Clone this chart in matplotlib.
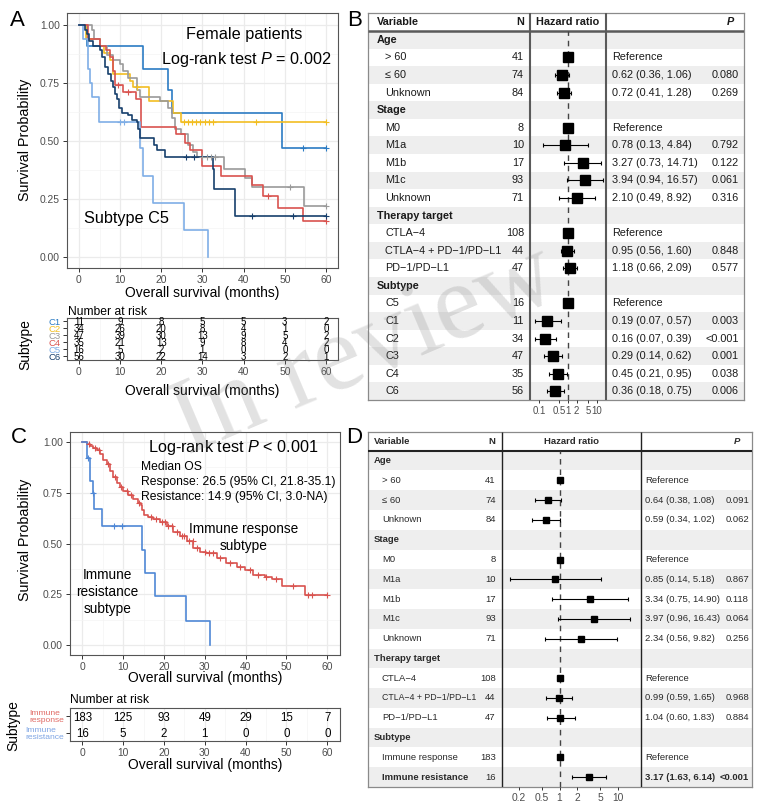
import numpy as np
import matplotlib
matplotlib.use("Agg")
import matplotlib.pyplot as plt
from matplotlib.ticker import NullLocator

plt.rcParams['font.family'] = ['Liberation Sans', 'DejaVu Sans']
plt.rcParams['mathtext.fontset'] = 'custom'
plt.rcParams['mathtext.rm'] = 'Liberation Sans'
plt.rcParams['mathtext.it'] = 'Liberation Sans:italic'
plt.rcParams['mathtext.bf'] = 'Liberation Sans:bold'

# ======================= DATA =======================
# ---- Panel A: Kaplan-Meier by subtype ----
A_groups = ['C1', 'C2', 'C3', 'C4', 'C5', 'C6']
A_colors = ['#2B7BC3', '#F2BE22', '#9A9A9A', '#D9534F', '#7FAEE6', '#173F6C']

C1_t = [0, 2.0, 15.6, 21.7, 22.7, 49.2]
C1_s = [1, 0.91, 0.81, 0.72, 0.62, 0.47]
C1_end = 60
C1_cens = [54.5, 60]

C2_t = [0, 1.7, 5.0, 6.0, 7.5, 8.3, 12.4, 13.2, 17.0, 22.9, 24.9]
C2_s = [1, 0.94, 0.91, 0.88, 0.85, 0.79, 0.76, 0.73, 0.67, 0.62, 0.58]
C2_end = 60
C2_cens = [14.0, 25.5, 26.5, 27.5, 28.5, 29.5, 30.5, 31.5, 32.5, 43.0, 60]

C3_t = [0, 3.1, 3.6, 5.1, 6.7, 8.3, 10.0, 10.8, 12.0, 14.0, 14.8, 19.7, 21.7,
        22.5, 23.3, 24.9, 26.6, 27.8, 28.6, 35.1, 40.3, 42.0, 54.7]
C3_s = [1, 0.98, 0.94, 0.91, 0.87, 0.85, 0.83, 0.80, 0.77, 0.72, 0.69, 0.67, 0.64,
        0.60, 0.55, 0.53, 0.48, 0.45, 0.43, 0.38, 0.34, 0.30, 0.22]
C3_end = 60
C3_cens = [30.0, 31.0, 32.0, 33.0, 51.3, 60]

C4_t = [0, 2.3, 5.1, 6.6, 7.5, 8.3, 8.7, 10.8, 13.8, 15.1, 23.5, 25.7, 27.0,
        29.9, 34.5, 42.0, 44.8, 48.3, 54.3]
C4_s = [1, 0.94, 0.91, 0.89, 0.86, 0.80, 0.74, 0.71, 0.68, 0.56, 0.53, 0.49, 0.46,
        0.39, 0.35, 0.31, 0.26, 0.21, 0.155]
C4_end = 60
C4_cens = [9.5, 12.0, 46.0, 60]

C5_t = [0, 0.9, 2.3, 2.8, 3.2, 4.9, 14.8, 15.5, 17.9, 25.5, 31.3]
C5_s = [1, 0.94, 0.81, 0.75, 0.69, 0.58, 0.47, 0.35, 0.23, 0.115, 0.0]
C5_end = 31.3
C5_cens = [10.0, 11.0]

C6_t = [0, 1.5, 2.0, 2.5, 3.5, 5.1, 5.5, 6.3, 7.1, 7.8, 8.3, 8.7, 9.3, 9.7, 10.4,
        12.0, 12.8, 14.0, 14.4, 14.8, 18.2, 18.9, 20.9, 32.5, 32.9, 37.9]
C6_s = [1, 0.98, 0.96, 0.93, 0.91, 0.89, 0.86, 0.82, 0.79, 0.76, 0.73, 0.70, 0.68, 0.64, 0.62,
        0.61, 0.59, 0.58, 0.55, 0.51, 0.48, 0.46, 0.43, 0.38, 0.29, 0.175]
C6_end = 60
C6_cens = [26.0, 28.0, 42.0, 52.0, 60]

risk_times = [0, 10, 20, 30, 40, 50, 60]
A_risk_C1 = [11, 9, 8, 5, 5, 3, 2]
A_risk_C2 = [34, 26, 20, 8, 4, 1, 0]
A_risk_C3 = [47, 39, 30, 13, 9, 5, 2]
A_risk_C4 = [35, 21, 13, 9, 8, 4, 2]
A_risk_C5 = [16, 5, 2, 1, 0, 0, 0]
A_risk_C6 = [56, 30, 22, 14, 3, 2, 1]

# ---- Panel C: immune response vs resistance ----
C_labels = ['Immune\nresponse', 'Immune\nresistance']
C_colors = ['#D9534F', '#4F88D6']
C_label_colors = ['#E06A64', '#7EA5E4']
resp_t = [0, 1.2, 1.9, 2.7, 3.5, 4.3, 5.1, 6.0, 6.8, 7.6, 8.4, 9.2, 10.0, 11.3, 12.5,
          13.7, 14.4, 14.7, 15.0, 16.2, 17.4, 19.0, 20.7, 22.3, 23.9, 25.6, 27.2, 28.8,
          30.4, 32.9, 35.3, 37.8, 39.8, 41.9, 44.7, 46.4, 48.8, 54.5]
resp_s = [1, 0.99, 0.98, 0.97, 0.96, 0.94, 0.91, 0.89, 0.86, 0.83, 0.80, 0.78, 0.76, 0.74, 0.72,
          0.70, 0.69, 0.665, 0.64, 0.63, 0.62, 0.605, 0.585, 0.555, 0.535, 0.51, 0.48, 0.46,
          0.452, 0.427, 0.405, 0.385, 0.37, 0.345, 0.337, 0.325, 0.292, 0.245]
resp_end = 60
resp_cens = [1.6, 3.0, 4.0, 6.4, 8.0, 9.6, 11.0, 12.0, 14.0, 16.8, 18.0, 19.6, 20.2, 21.0,
             22.0, 23.2, 24.4, 25.0, 26.2, 27.0, 28.2, 30.0, 31.0, 32.0, 33.6, 36.2, 38.5,
             41.0, 43.0, 45.0, 47.5, 51.5, 55.2, 56.2, 60]
resi_t = [0, 1.2, 2.0, 2.7, 2.9, 4.8, 14.7, 15.4, 17.9, 25.4, 31.2]
resi_s = [1, 0.92, 0.81, 0.75, 0.67, 0.585, 0.47, 0.355, 0.24, 0.12, 0.0]
resi_end = 31.2
resi_cens = [1.5, 2.7, 7.8, 9.8]

C_risk_resp = [183, 125, 93, 49, 29, 15, 7]
C_risk_resi = [16, 5, 2, 1, 0, 0, 0]

# ---- Panel B forest ----
B_var = ['Age', '> 60', '≤ 60', 'Unknown', 'Stage', 'M0', 'M1a', 'M1b', 'M1c', 'Unknown',
         'Therapy target', 'CTLA−4', 'CTLA−4 + PD−1/PD−L1', 'PD−1/PD−L1',
         'Subtype', 'C5', 'C1', 'C2', 'C3', 'C4', 'C6']
B_group = [1, 0, 0, 0, 1, 0, 0, 0, 0, 0, 1, 0, 0, 0, 1, 0, 0, 0, 0, 0, 0]
B_n = ['', '41', '74', '84', '', '8', '10', '17', '93', '71', '', '108', '44', '47',
       '', '16', '11', '34', '47', '35', '56']
nan = np.nan
B_hr = [nan, 1, 0.62, 0.72, nan, 1, 0.78, 3.27, 3.94, 2.10, nan, 1, 0.95, 1.18,
        nan, 1, 0.19, 0.16, 0.29, 0.45, 0.36]
B_lo = [nan, nan, 0.36, 0.41, nan, nan, 0.13, 0.73, 0.94, 0.49, nan, nan, 0.56, 0.66,
        nan, nan, 0.07, 0.07, 0.14, 0.21, 0.18]
B_hi = [nan, nan, 1.06, 1.28, nan, nan, 4.84, 14.71, 16.57, 8.92, nan, nan, 1.60, 2.09,
        nan, nan, 0.57, 0.39, 0.62, 0.95, 0.75]
B_p = ['', '', '0.080', '0.269', '', '', '0.792', '0.122', '0.061', '0.316', '', '', '0.848',
       '0.577', '', '', '0.003', '<0.001', '0.001', '0.038', '0.006']
B_ticks = [0.1, 0.5, 1, 2, 5, 10]

# ---- Panel D forest ----
D_var = ['Age', '> 60', '≤ 60', 'Unknown', 'Stage', 'M0', 'M1a', 'M1b', 'M1c', 'Unknown',
         'Therapy target', 'CTLA−4', 'CTLA−4 + PD−1/PD−L1', 'PD−1/PD−L1',
         'Subtype', 'Immune response', 'Immune resistance']
D_group = [1, 0, 0, 0, 1, 0, 0, 0, 0, 0, 1, 0, 0, 0, 1, 0, 0]
D_n = ['', '41', '74', '84', '', '8', '10', '17', '93', '71', '', '108', '44', '47',
       '', '183', '16']
D_hr = [nan, 1, 0.64, 0.59, nan, 1, 0.85, 3.34, 3.97, 2.34, nan, 1, 0.99, 1.04, nan, 1, 3.17]
D_lo = [nan, nan, 0.38, 0.34, nan, nan, 0.14, 0.75, 0.96, 0.56, nan, nan, 0.59, 0.60, nan, nan, 1.63]
D_hi = [nan, nan, 1.08, 1.02, nan, nan, 5.18, 14.90, 16.43, 9.82, nan, nan, 1.65, 1.83, nan, nan, 6.14]
D_p = ['', '', '0.091', '0.062', '', '', '0.867', '0.118', '0.064', '0.256', '', '', '0.968',
       '0.884', '', '', '<0.001']
D_bold = [16]
D_ticks = [0.2, 0.5, 1, 2, 5, 10]

# ======================= FIGURE =======================
W, H = 767, 805
fig = plt.figure(figsize=(W / 100, H / 100), dpi=100)


def add_ax(l, t, r, b, **kw):
    return fig.add_axes([l / W, 1 - b / H, (r - l) / W, (b - t) / H], **kw)


def ftext(x, y, s, **kw):
    return fig.text(x / W, 1 - y / H, s, **kw)


TICKC = '#4D4D4D'


def km_style(ax):
    ax.set_xlim(-3, 63)
    ax.set_ylim(-0.05, 1.05)
    ax.set_xticks(risk_times)
    ax.set_xticks(range(5, 61, 10), minor=True)
    ax.set_yticks([0, 0.25, 0.5, 0.75, 1])
    ax.set_yticks([0.125, 0.375, 0.625, 0.875], minor=True)
    ax.set_yticklabels(['0.00', '0.25', '0.50', '0.75', '1.00'])
    ax.grid(which='major', color='#EBEBEB', lw=0.9)
    ax.grid(which='minor', color='#F4F4F4', lw=0.5)
    ax.set_axisbelow(True)
    for s in ax.spines.values():
        s.set_color('#555555')
        s.set_linewidth(0.8)
    ax.tick_params(which='major', length=3, color='#333333', labelsize=7.4,
                   labelcolor=TICKC, pad=2, width=0.7)
    ax.tick_params(which='minor', length=0)


def km_line(ax, t, s, end, cens, color, lw=1.2):
    t = np.asarray(t, float)
    s = np.asarray(s, float)
    tt = np.r_[t, end]
    ss = np.r_[s, s[-1]]
    ax.step(tt, ss, where='post', color=color, lw=lw, zorder=3)
    if len(cens):
        c = np.asarray(cens, float)
        idx = np.searchsorted(t, c, side='right') - 1
        ax.plot(c, s[idx], '+', color=color, ms=4, mew=0.8, zorder=4)


def risk_table(ax, rows, labels, colors, fs, lab_fs):
    n = len(rows)
    ax.set_xlim(-3, 63)
    ax.set_ylim(n + 0.5, 0.5)
    ax.set_xticks(risk_times)
    ax.set_xticks(range(5, 61, 10), minor=True)
    ax.set_yticks(range(1, n + 1))
    ax.set_yticklabels(labels)
    for lab, c in zip(ax.get_yticklabels(), colors):
        lab.set_color(c)
        lab.set_fontsize(lab_fs)
        lab.set_multialignment('left')
        lab.set_linespacing(1.0)
    ax.grid(axis='x', which='major', color='#EBEBEB', lw=0.9)
    ax.grid(axis='x', which='minor', color='#F4F4F4', lw=0.5)
    ax.set_axisbelow(True)
    for i, row in enumerate(rows):
        for tm, v in zip(risk_times, row):
            ax.text(tm, i + 1, str(v), ha='center', va='center_baseline', fontsize=fs,
                    color='black')
    for s in ax.spines.values():
        s.set_color('#555555')
        s.set_linewidth(0.8)
    ax.tick_params(axis='x', which='major', length=3, color='#333333', labelsize=7.4,
                   labelcolor=TICKC, pad=2, width=0.7)
    ax.tick_params(axis='y', which='major', length=3, color='#333333', pad=1, width=0.7)
    ax.tick_params(which='minor', length=0)


# ---------------- Panel A ----------------
axA = add_ax(66.6, 13.3, 338.4, 268.3)
km_style(axA)
A_curves = [(C1_t, C1_s, C1_end, C1_cens), (C2_t, C2_s, C2_end, C2_cens),
            (C3_t, C3_s, C3_end, C3_cens), (C4_t, C4_s, C4_end, C4_cens),
            (C5_t, C5_s, C5_end, C5_cens), (C6_t, C6_s, C6_end, C6_cens)]
for (t, s, e, c), col in zip(A_curves, A_colors):
    km_line(axA, t, s, e, c, col)
axA.text(0.655, 0.915, 'Female patients', transform=axA.transAxes, ha='center', va='center',
         fontsize=11.7)
axA.text(0.66, 0.82, 'Log-rank test $P$ = 0.002', transform=axA.transAxes, ha='center',
         va='center', fontsize=11.7)
axA.text(0.22, 0.197, 'Subtype C5', transform=axA.transAxes, ha='center', va='center',
         fontsize=11.7)
ftext(25, 140, 'Survival Probability', rotation=90, ha='center', va='center', fontsize=10.3)
ftext(202.5, 293, 'Overall survival (months)', ha='center', va='center', fontsize=10)

axAr = add_ax(66.6, 317.7, 338.4, 360)
risk_table(axAr, [A_risk_C1, A_risk_C2, A_risk_C3, A_risk_C4, A_risk_C5, A_risk_C6],
           A_groups, A_colors, 7.0, 6.8)
ftext(68, 311.5, 'Number at risk', ha='left', va='center', fontsize=8.7)
ftext(25, 345, 'Subtype', rotation=90, ha='center', va='center', fontsize=10)
ftext(202.5, 391, 'Overall survival (months)', ha='center', va='center', fontsize=10)

# ---------------- Panel C ----------------
axC = add_ax(70, 432, 339.6, 655)
km_style(axC)
km_line(axC, resp_t, resp_s, resp_end, resp_cens, C_colors[0])
km_line(axC, resi_t, resi_s, resi_end, resi_cens, C_colors[1])
axC.text(36.9, 0.972, 'Log-rank test $P$ < 0.001', ha='center', va='center', fontsize=11.7)
axC.text(14.5, 0.878, 'Median OS', ha='left', va='center', fontsize=8.7)
axC.text(14.5, 0.804, 'Response: 26.5 (95% CI, 21.8-35.1)', ha='left', va='center', fontsize=8.7)
axC.text(14.5, 0.730, 'Resistance: 14.9 (95% CI, 3.0-NA)', ha='left', va='center', fontsize=8.7)
axC.text(39.6, 0.53, 'Immune response\nsubtype', ha='center', va='center', fontsize=9.8,
         linespacing=1.25)
axC.text(6.2, 0.26, 'Immune\nresistance\nsubtype', ha='center', va='center', fontsize=9.8,
         linespacing=1.25)
ftext(25, 540, 'Survival Probability', rotation=90, ha='center', va='center', fontsize=10.3)
ftext(204.8, 678, 'Overall survival (months)', ha='center', va='center', fontsize=10)

axCr = add_ax(70, 708.3, 339.6, 741)
risk_table(axCr, [C_risk_resp, C_risk_resi], C_labels, C_label_colors, 8.3, 6.1)
ftext(70, 700, 'Number at risk', ha='left', va='center', fontsize=8.7)
ftext(13, 726, 'Subtype', rotation=90, ha='center', va='center', fontsize=10)
ftext(204.8, 765, 'Overall survival (months)', ha='center', va='center', fontsize=10)


# ---------------- Forest tables ----------------
def forest(box, cols, var, grp, nn, hr, lo, hi, pv, bold, fs, small, hdr_fs, xlim, ticks,
           tick_fs, sq, vcol, vlw, hlw, txtc):
    l, t, r, b, hb = box
    gx, sx, n_r, v1, v2, ci_l, p_r, hr_c, p_c = cols
    hr = np.asarray(hr, float)
    lo = np.asarray(lo, float)
    hi = np.asarray(hi, float)
    nrow = len(var)
    rh = (b - hb) / nrow
    tab = add_ax(l, t, r, b)
    tab.set_xlim(l, r)
    tab.set_ylim(b, t)
    tab.set_xticks([])
    tab.set_yticks([])
    for s in tab.spines.values():
        s.set_color('#8A8A8A')
        s.set_linewidth(0.9)
    for i in range(nrow):
        if i % 2 == 0:
            tab.axhspan(hb + i * rh, hb + (i + 1) * rh, color='#EEEEEE', lw=0, zorder=0)
    yh = (t + hb) / 2
    tab.text(gx, yh, 'Variable', ha='left', va='center', fontsize=hdr_fs, fontweight='bold', color=txtc)
    tab.text(n_r, yh, 'N', ha='right', va='center', fontsize=hdr_fs, fontweight='bold', color=txtc)
    tab.text(hr_c, yh, 'Hazard ratio', ha='center', va='center', fontsize=hdr_fs,
             fontweight='bold', color=txtc)
    tab.text(p_c, yh, 'P', ha='center', va='center', fontsize=hdr_fs, fontweight='bold',
             fontstyle='italic', color=txtc)
    for i in range(nrow):
        y = hb + (i + 0.5) * rh
        w = 'bold' if (grp[i] or i in bold) else 'normal'
        f = small if var[i].startswith('CTLA−4 +') else fs
        tab.text(gx if grp[i] else sx, y, var[i], ha='left', va='center', fontsize=f,
                 fontweight=w, color=txtc)
        tab.text(n_r, y, nn[i], ha='right', va='center', fontsize=fs, color=txtc)
        if not grp[i]:
            ci = 'Reference' if np.isnan(lo[i]) else f'{hr[i]:.2f} ({lo[i]:.2f}, {hi[i]:.2f})'
            wb = 'bold' if i in bold else 'normal'
            tab.text(ci_l, y, ci, ha='left', va='center', fontsize=fs, fontweight=wb, color=txtc)
            tab.text(p_r, y, pv[i], ha='right', va='center', fontsize=fs, fontweight=wb, color=txtc)
    tab.vlines([v1, v2], t, b, colors=vcol, lw=vlw, zorder=5)
    tab.hlines(hb, l, r, colors=vcol, lw=hlw, zorder=5)

    hx = add_ax(v1, hb, v2, b)
    hx.set_facecolor('none')
    hx.set_xscale('log')
    hx.set_xlim(*xlim)
    hx.set_ylim(nrow + 0.5, 0.5)
    rows = np.arange(1, nrow + 1)
    pm = ~np.isnan(hr)
    cm = ~np.isnan(lo)
    hx.axvline(1, color='#444444', lw=1.0, ls=(0, (4, 3.5)), zorder=1)
    hx.errorbar(hr[cm], rows[cm], xerr=[hr[cm] - lo[cm], hi[cm] - hr[cm]], fmt='none',
                ecolor='black', elinewidth=0.8, capsize=1.6, capthick=0.8, zorder=2)
    hx.plot(hr[pm], rows[pm], 's', ms=sq, color='black', zorder=3)
    hx.set_xticks(ticks)
    hx.set_xticklabels([f'{v:g}' for v in ticks])
    hx.xaxis.set_minor_locator(NullLocator())
    hx.set_yticks([])
    for s in hx.spines.values():
        s.set_visible(False)
    hx.tick_params(axis='x', length=2.5, width=0.7, color='#333333', labelsize=tick_fs,
                   labelcolor=TICKC, pad=1.5)


forest((368, 13, 744, 400, 31),
       (377, 385, 524, 530, 606, 612, 739, 568, 730),
       B_var, B_group, B_n, B_hr, B_lo, B_hi, B_p, [], 7.8, 7.8, 7.8,
       (1 / 21.3, 21.3), B_ticks, 6.9, 6.5, '#5A5A5A', 1.5, 1.8, '#1A1A1A')

forest((368, 431.7, 751.7, 787, 450.7),
       (374, 382, 495.7, 501.7, 640.7, 645, 749, 571, 737),
       D_var, D_group, D_n, D_hr, D_lo, D_hi, D_p, D_bold, 6.8, 6.3, 6.8,
       (0.1023, 24.6), D_ticks, 7.4, 5.0, '#222222', 1.0, 1.5, '#2A2A2A')

# ---------------- Panel letters ----------------
for lab, x, y in [('A', 17, 20), ('B', 355, 20), ('C', 19, 437), ('D', 354, 437)]:
    ftext(x, y, lab, ha='center', va='center', fontsize=16)

# ---------------- Watermark ----------------
ftext(365, 352, 'In review', ha='center', va='center', fontsize=77, rotation=23,
      family='Liberation Serif', color='#7A7A7A', alpha=0.22, zorder=100)

fig.savefig('out.png', dpi=100)
